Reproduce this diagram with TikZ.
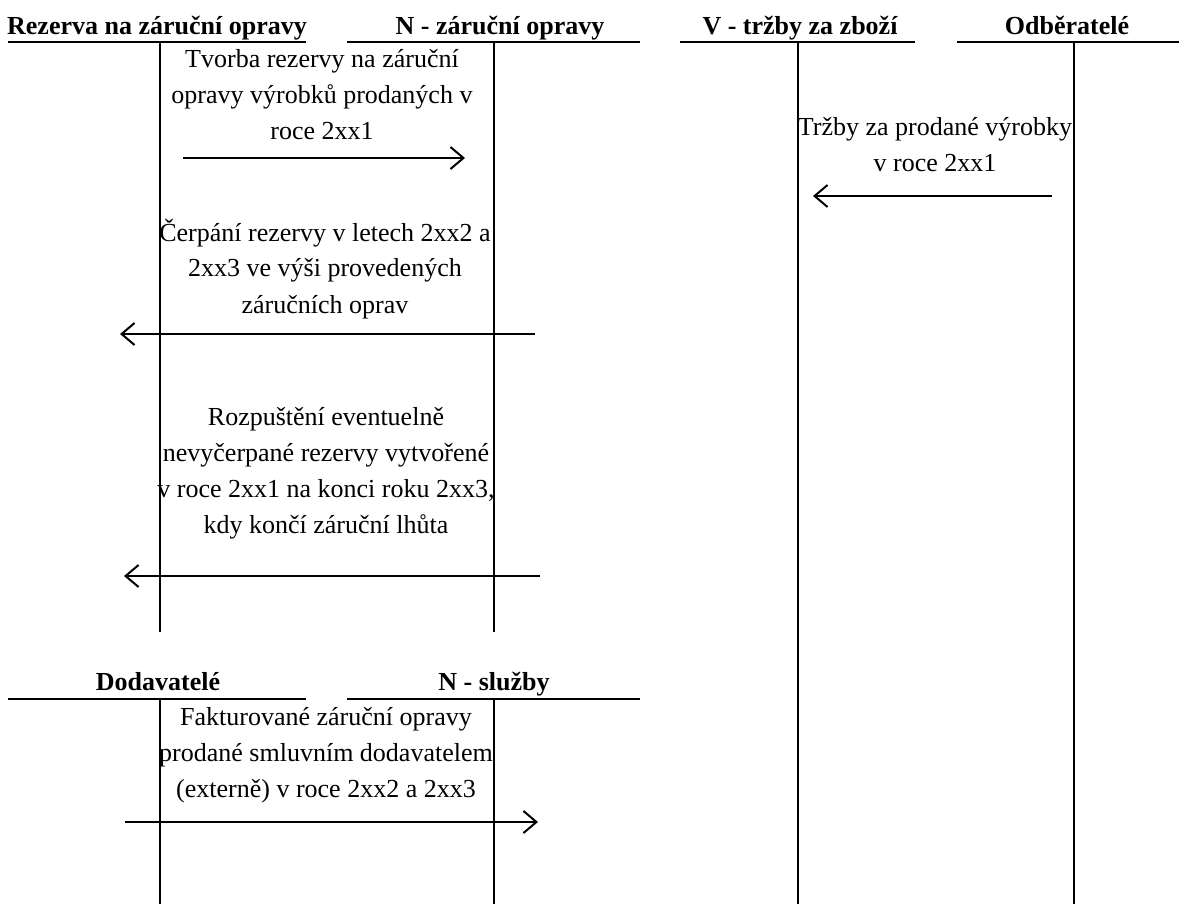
\documentclass[tikz,border=0pt]{standalone}
\usepackage{fontspec}
\setmainfont{Liberation Serif}
\usetikzlibrary{arrows.meta,positioning}

\tikzset{
  konto/.style={line width=2pt},
  sipka/.style={line width=2pt,-{Straight Barb[length=13pt,width=22pt,line width=2pt]}},
  popis/.style={align=center,anchor=base,inner sep=0pt,font=\fontsize{26}{36}\selectfont},
  hlavicka/.style={anchor=base,inner sep=0pt,font=\fontsize{26}{26}\selectfont\bfseries}
}

\begin{document}
\begin{tikzpicture}[x=1pt,y=-1pt]
		\useasboundingbox (0,0) rectangle (1179,904);
		\draw[konto] (8,42) -- (306,42);
		\draw[konto] (160,42) -- (160,632);
		\draw[konto] (347,42) -- (640,42);
		\draw[konto] (494,42) -- (494,632);
		\draw[konto] (680,42) -- (915,42);
		\draw[konto] (798,42) -- (798,904);
		\draw[konto] (957,42) -- (1179,42);
		\draw[konto] (1074,42) -- (1074,904);
		\draw[konto] (8,699) -- (306,699);
		\draw[konto] (160,699) -- (160,904);
		\draw[konto] (347,699) -- (640,699);
		\draw[konto] (494,699) -- (494,904);
		\node[hlavicka] (rezerva) at (157,35) {Rezerva na záruční opravy};
		\node[hlavicka] (nzaruka) at (500,35) {N - záruční opravy};
		\node[hlavicka] (vtrzby) at (800,35) {V - tržby za zboží};
		\node[hlavicka] (odberatele) at (1067,35) {Odběratelé};
		\node[hlavicka] (dodavatele) at (158,690) {Dodavatelé};
		\node[hlavicka] (nsluzby) at (494,690) {N - služby};
		\node[popis] (tvorba) at (322,140) {Tvorba rezervy na záruční\\opravy výrobků prodaných v\\roce 2xx1};
		\node[popis] (cerpani) at (325,313) {Čerpání rezervy v letech 2xx2 a\\2xx3 ve výši provedených\\záručních oprav};
		\node[popis] (rozpusteni) at (326,533) {Rozpuštění eventuelně\\nevyčerpané rezervy vytvořené\\v roce 2xx1 na konci roku 2xx3,\\kdy končí záruční lhůta};
		\node[popis] (trzby) at (935,172) {Tržby za prodané výrobky\\v roce 2xx1};
		\node[popis] (faktury) at (326,797) {Fakturované záruční opravy\\prodané smluvním dodavatelem\\(externě) v roce 2xx2 a 2xx3};
		\coordinate (t1) at (183,158);
		\coordinate (t2) at (465,158);
		\coordinate (c1) at (535,334);
		\coordinate (c2) at (120,334);
		\coordinate (r1) at (540,576);
		\coordinate (r2) at (124,576);
		\coordinate (o1) at (1052,196);
		\coordinate (o2) at (813,196);
		\coordinate (f1) at (125,822);
		\coordinate (f2) at (538,822);
		\draw[sipka] (t1) -- (t2);
		\draw[sipka] (c1) -- (c2);
		\draw[sipka] (r1) -- (r2);
		\draw[sipka] (o1) -- (o2);
		\draw[sipka] (f1) -- (f2);
\end{tikzpicture}
\end{document}
